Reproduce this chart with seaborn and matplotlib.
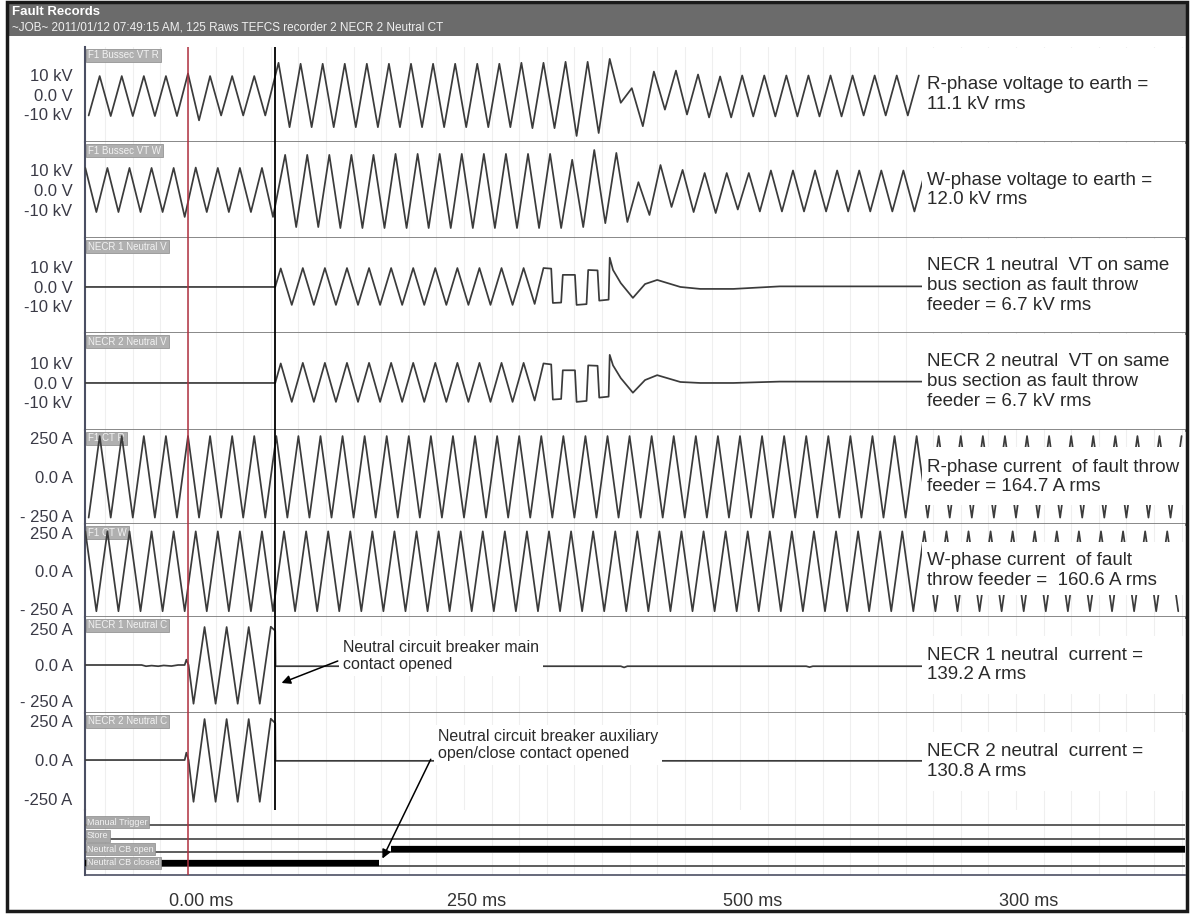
import numpy as np
import matplotlib
matplotlib.use("Agg")
import matplotlib.pyplot as plt
import matplotlib.transforms as mtransforms
from matplotlib.patches import Rectangle
import seaborn as sns

# ---------------- record data (time in ms, kV, A) ----------------
# analog channels: extrema read every half cycle (10 ms) from the record

# F1 Bussec VT R  (kV)
r_volt_pre_t0 = -90
r_volt_pre = [-10.5, 9.7, -10.8, 9.7, -10.8, 9.7, -10.8, 9.7, -10.8, 11.0,
              -13.0, 9.7, -10.5, 9.7, -10.5, 9.7, -10.5]
r_volt_post_t0 = 82
r_volt_post = [16.5, -16.5, 16.0, -16.5, 16.0, -16.5, 16.0, -16.5, 16.0, -16.5,
               16.0, -16.5, 16.0, -16.5, 16.0, -16.5, 16.0, -16.5, 16.0, -16.5,
               16.0, -16.5, 16.5, -17.0, 16.5, -17.0, 17.0, -21.0, 17.0, -19.5,
               18.5, -4.0, 3.5, -16.0, 12.0, -7.5, 12.5, -10.0, 10.5, -11.5,
               9.5, -11.5, 10.0, -11.0, 10.0, -11.0, 10.0, -11.0, 10.0, -11.0,
               10.0, -11.0, 10.0, -10.5, 10.0, -10.5, 10.0, -10.5, 10.0]

# F1 Bussec VT W  (kV)
w_volt_pre_t0 = -93
w_volt_pre = [11.3, -11.3, 11.3, -11.3, 11.3, -11.3, 11.3, -11.3, 11.3, -13.8,
              11.5, -11.3, 11.3, -11.3, 11.3, -11.3, 11.3, -13.8]
w_volt_post_t0 = 88
w_volt_post = [18.0, -19.0, 18.0, -19.0, 18.0, -19.5, 18.0, -19.5, 18.0, -19.5,
               18.5, -19.5, 18.5, -19.5, 18.5, -19.5, 18.5, -19.5, 18.5, -19.5,
               18.5, -19.5, 18.5, -19.5, 18.5, -19.5, 15.5, -19.0, 20.5, -17.0,
               19.0, -16.4, 4.0, -12.8, 12.8, -8.7, 10.3, -11.3, 8.7, -11.8,
               8.7, -10.0, 8.7, -11.0, 10.0, -11.0, 10.0, -11.0, 10.0, -11.0,
               10.0, -11.0, 10.0, -11.0, 10.0, -11.0, 10.0, -11.0, 10.0]

# NECR 1 / NECR 2 neutral VT  (kV)
nv_pre_t = [-93.3, 79]
nv_pre_v = [0.0, 0.0]
nv_reg_t0 = 84
nv1_reg = [9.5, -9.2, 9.7, -9.2, 9.7, -9.2, 9.7, -9.2, 9.7, -9.2, 9.7, -9.2,
           9.7, -9.2, 9.7, -9.2, 9.7, -9.2, 9.7, -9.2, 9.7, -9.2, 9.7, -8.7]
nv2_reg = [10.0, -9.7, 10.3, -9.7, 10.3, -9.7, 10.3, -9.7, 10.3, -9.7, 10.3, -9.7,
           10.3, -9.7, 10.3, -9.7, 10.3, -9.7, 10.3, -9.7, 10.3, -9.7, 10.3, -9.0]
nv_tail_t = [322, 329, 330.5, 338, 339.5, 350.5, 352, 361, 362.5, 371, 372.5, 381,
             382, 385, 392, 403, 414, 425, 446, 464, 494, 536, 670]
nv1_tail = [9.7, 9.4, -8.2, -8.0, 6.2, 6.2, -9.2, -8.8, 8.7, 8.5, -7.0, -6.5,
            15.0, 8.7, 2.0, -5.6, 1.5, 3.6, 0.0, -1.0, -1.0, 0.3, 0.3]
nv2_tail = [10.0, 9.5, -8.5, -8.2, 6.5, 6.5, -9.7, -9.2, 9.0, 8.8, -7.5, -7.0,
            14.4, 9.0, 2.5, -5.0, 1.5, 4.0, 0.5, 0.0, 0.0, 0.7, 0.7]

# F1 CT R  (A)
r_cur_t0 = -90
r_cur = [-248, 250, -248, 250, -248, 250, -248, 250, -248, 250,
         -248, 250, -248, 250, -248, 250, -248, 250, -248, 250,
         -248, 250, -248, 250, -248, 250, -248, 250, -248, 250,
         -248, 250, -248, 250, -248, 250, -248, 250, -248, 250,
         -248, 250, -248, 250, -248, 250, -248, 250, -248, 250,
         -248, 250, -248, 250, -248, 250, -248, 250, -248, 250,
         -248, 250, -248, 250, -248, 250, -248, 250, -248, 250,
         -248, 250, -248, 250, -248, 250, -248, 250, -248, 250,
         -248, 250, -248, 250, -248, 250, -248, 250, -248, 250,
         -248, 250, -248, 250, -248, 250, -248, 250, -248, 250]

# F1 CT W  (A)
w_cur_t0 = -93
w_cur = [248, -252, 248, -252, 248, -252, 248, -252, 248, -252,
         248, -252, 248, -252, 248, -252, 248, -252, 248, -252,
         248, -252, 248, -252, 248, -252, 248, -252, 248, -252,
         248, -252, 248, -252, 248, -252, 248, -252, 248, -252,
         248, -252, 248, -252, 248, -252, 248, -252, 248, -252,
         248, -252, 248, -252, 248, -252, 248, -252, 248, -252,
         248, -252, 248, -252, 248, -252, 248, -252, 248, -252,
         248, -252, 248, -252, 248, -252, 248, -252, 248, -252,
         248, -252, 248, -252, 248, -252, 248, -252, 248, -252,
         248, -252, 248, -252, 248, -252, 248, -252, 248, -252]

# NECR 1 / NECR 2 neutral CT  (A)
nc1_pre_t = [-93.3, -42, -38, -33, -27, -22, -15, -9, -3, -1.5, 0.5]
nc1_pre_v = [0, 0, -8, -4, -8, -3, -7, 0, 0, 35, 0]
nc2_pre_t = [-93.3, -3, -1.5, 0.5]
nc2_pre_v = [0, 0, 45, 0]
nc_wave_t0 = 5
nc1_wave = [-255, 250, -255, 250, -255, 250, -255, 252]
nc2_wave = [-255, 250, -255, 250, -255, 250, -255, 252]
nc1_post_t = [79, 79.3, 392, 395, 398, 560, 563, 566, 903.1]
nc1_post_v = [225, -8, -8, -16, -8, -8, -14, -8, -8]
nc2_post_t = [79, 79.3, 903.1]
nc2_post_v = [225, -5, -5]

# digital channels
dig_names = ["Manual Trigger", "Store", "Neutral CB open", "Neutral CB closed"]
dig_on_from = [None, None, 184, -93.3]
dig_on_to = [None, None, 903.1, 173]

trigger_t = 0
cb_open_t = 79

x_ticks = [0, 250, 500, 750]
x_ticklabels = ["0.00 ms", "250 ms", "500 ms", "300 ms"]

chan_names = ["F1 Bussec VT R", "F1 Bussec VT W", "NECR 1 Neutral V", "NECR 2 Neutral V",
              "F1 CT R", "F1 CT W", "NECR 1 Neutral C", "NECR 2 Neutral C"]
notes = ["R-phase voltage to earth =\n11.1 kV rms",
         "W-phase voltage to earth =\n12.0 kV rms",
         "NECR 1 neutral  VT on same\nbus section as fault throw\nfeeder = 6.7 kV rms",
         "NECR 2 neutral  VT on same\nbus section as fault throw\nfeeder = 6.7 kV rms",
         "R-phase current  of fault throw\nfeeder = 164.7 A rms",
         "W-phase current  of fault\nthrow feeder =  160.6 A rms",
         "NECR 1 neutral  current =\n139.2 A rms",
         "NECR 2 neutral  current =\n130.8 A rms"]
volt_ticklabels = ["10 kV", "0.0 V", "-10 kV"]
cur_ticklabels = ["250 A", "0.0 A", "- 250 A"]
cur_ticklabels_last = ["250 A", "0.0 A", "-250 A"]


def seg(t0, vals):
    return t0 + 10 * np.arange(len(vals)), np.asarray(vals, float)


def join(*parts):
    t = np.concatenate([np.asarray(p[0], float) for p in parts])
    v = np.concatenate([np.asarray(p[1], float) for p in parts])
    return t, v


channels = [
    join(seg(r_volt_pre_t0, r_volt_pre), seg(r_volt_post_t0, r_volt_post)),
    join(seg(w_volt_pre_t0, w_volt_pre), seg(w_volt_post_t0, w_volt_post)),
    join((nv_pre_t, nv_pre_v), seg(nv_reg_t0, nv1_reg), (nv_tail_t, nv1_tail)),
    join((nv_pre_t, nv_pre_v), seg(nv_reg_t0, nv2_reg), (nv_tail_t, nv2_tail)),
    seg(r_cur_t0, r_cur),
    seg(w_cur_t0, w_cur),
    join((nc1_pre_t, nc1_pre_v), seg(nc_wave_t0, nc1_wave), (nc1_post_t, nc1_post_v)),
    join((nc2_pre_t, nc2_pre_v), seg(nc_wave_t0, nc2_wave), (nc2_post_t, nc2_post_v)),
]

# ---------------- layout (pixels of the 1192x915 canvas) ----------------
W, H = 1192, 915
X0, X1 = -93.3, 903.1
panel_px = [(47, 142), (142, 238), (238, 333), (333, 430),
            (430, 524), (524, 617), (617, 713), (713, 810)]
panel_ylim = [(-24.1, 24.6), (-24.6, 24.6), (-23.6, 25.1), (-24.1, 25.6),
              (-287, 287), (-288, 294), (-316, 316), (-305, 287)]
note_box = [(0.01, 0.99), (0.01, 0.99), (0.01, 0.99), (0.01, 0.99),
            (0.20, 0.82), (0.24, 0.81), (0.2, 0.8), (0.2, 0.8)]

sns.set_theme(style="white")
plt.rcParams["font.family"] = ["Liberation Sans", "DejaVu Sans"]

fig = plt.figure(figsize=(W / 100, H / 100), dpi=100)
fig.patch.set_facecolor("white")


def add_px_axes(top, bottom, left=85, right=1185):
    return fig.add_axes([left / W, 1 - bottom / H, (right - left) / W, (bottom - top) / H])


wave_col = "#3b3b3b"
axis_col = "#4b4f63"
label_col = "#3a3a46"
minor_grid = np.arange(-75, 903, 25)

axes = []
for i, ((top, bot), (t, v)) in enumerate(zip(panel_px, channels)):
    ax = add_px_axes(top, bot)
    axes.append(ax)
    sns.lineplot(x=t, y=v, ax=ax, color=wave_col, linewidth=1.25,
                 sort=False, estimator=None, zorder=3)
    ax.set_xlim(X0, X1)
    ax.set_ylim(*panel_ylim[i])
    ax.set_xlabel("")
    ax.set_ylabel("")
    ax.set_xticks([])
    ax.set_xticks(minor_grid, minor=True)
    ax.grid(which="minor", axis="x", color="#efefef", linewidth=0.8)
    ax.tick_params(axis="x", which="both", length=0, labelbottom=False)
    if i < 4:
        ax.set_yticks([10, 0, -10])
        ax.set_yticklabels(volt_ticklabels)
    else:
        ax.set_yticks([250, 0, -250])
        ax.set_yticklabels(cur_ticklabels_last if i == 7 else cur_ticklabels)
    ax.set_yticks([0], minor=True)
    ax.tick_params(axis="y", which="major", length=0, pad=9, labelsize=12, labelcolor=label_col)
    ax.tick_params(axis="y", which="minor", length=4, width=1, color="#555555", direction="out")
    if i >= 4:
        # keep the extreme current labels inside their own strip
        lbls = ax.get_yticklabels()
        down = mtransforms.ScaledTranslation(0, -1.5 / 100, fig.dpi_scale_trans)
        up = mtransforms.ScaledTranslation(0, 1.5 / 100, fig.dpi_scale_trans)
        lbls[0].set_transform(lbls[0].get_transform() + down)
        lbls[2].set_transform(lbls[2].get_transform() + up)
    for s in ["top", "right"]:
        ax.spines[s].set_visible(False)
    ax.spines["left"].set_color(axis_col)
    ax.spines["left"].set_linewidth(1.5)
    if i < 7:
        ax.spines["bottom"].set_color("#7d7d7d")
        ax.spines["bottom"].set_linewidth(2)
    else:
        ax.spines["bottom"].set_visible(False)

    ax.axvline(trigger_t, color="#b0303f", linewidth=1.1, zorder=4)
    ax.axvline(cb_open_t, color="black", linewidth=1.3, zorder=4)

    ax.text(0.003, 1 - 3.5 / (bot - top), chan_names[i], transform=ax.transAxes,
            ha="left", va="top", fontsize=7, color="#f2f2f2", zorder=2,
            bbox=dict(boxstyle="square,pad=0.2", fc="#b0b0b0", ec="#959595", lw=0.6))

    blend = mtransforms.blended_transform_factory(ax.transData, ax.transAxes)
    y0, y1 = note_box[i]
    ax.add_patch(Rectangle((665, y0), X1 - 665, y1 - y0, transform=blend,
                           fc="white", ec="none", zorder=5))
    ax.text(669, 0.5, notes[i], transform=blend, ha="left", va="center",
            fontsize=13.5, color="#2a2a2a", linespacing=1.2, zorder=6)

# mid-plot annotations
ax7, ax8 = axes[6], axes[7]
ax7.text(140, 59, "Neutral circuit breaker main\ncontact opened", fontsize=11.5,
         color="#2a2a2a", ha="left", va="center", linespacing=1.1, zorder=6,
         bbox=dict(boxstyle="square,pad=0.25", fc="white", ec="none"))
ax7.annotate("", xy=(82.4, -125), xytext=(138, 33),
             arrowprops=dict(arrowstyle="-|>", color="black", lw=1.1, mutation_scale=13),
             zorder=7)
ax8.text(226.5, 92, "Neutral circuit breaker auxiliary\nopen/close contact opened", fontsize=11.5,
         color="#2a2a2a", ha="left", va="center", linespacing=1.1, zorder=6,
         bbox=dict(boxstyle="square,pad=0.25", fc="white", ec="none"))

# digital channels
axd = add_px_axes(810, 875)
axd.set_xlim(X0, X1)
axd.set_ylim(3.7, -1.11)
for k, name in enumerate(dig_names):
    axd.axhline(k, color="#505050", linewidth=1.3, zorder=3)
    if dig_on_from[k] is not None:
        axd.hlines(k - 0.22, dig_on_from[k], dig_on_to[k], color="black", linewidth=4.5, zorder=4)
    axd.text(-91.5, k - 0.2, name, fontsize=6.5, color="#f2f2f2", ha="left", va="center", zorder=5,
             bbox=dict(boxstyle="square,pad=0.15", fc="#a9a9a9", ec="#8a8a8a", lw=0.5))
axd.axvline(trigger_t, color="#b0303f", linewidth=1.1, zorder=6)
axd.set_yticks([])
axd.set_xticks(x_ticks)
axd.set_xticklabels(x_ticklabels)
axd.set_xticks(minor_grid, minor=True)
axd.grid(which="minor", axis="x", color="#efefef", linewidth=0.8)
axd.tick_params(axis="x", which="major", direction="inout", length=8, width=1, color="#555555",
                pad=9, labelsize=13, labelcolor="#333333")
axd.tick_params(axis="x", which="minor", direction="inout", length=4, width=0.8, color="#777777")
for s in ["top", "right"]:
    axd.spines[s].set_visible(False)
axd.spines["left"].set_color(axis_col)
axd.spines["left"].set_linewidth(1.5)
axd.spines["bottom"].set_color(axis_col)
axd.spines["bottom"].set_linewidth(1.2)
shift = mtransforms.ScaledTranslation(13 / 100, 0, fig.dpi_scale_trans)
for lbl in axd.get_xticklabels():
    lbl.set_transform(lbl.get_transform() + shift)

axd.annotate("", xy=(175, 2.67), xycoords="data", xytext=(221, 20), textcoords=ax8.transData,
             arrowprops=dict(arrowstyle="-|>", color="black", lw=1.1, mutation_scale=13),
             annotation_clip=False, zorder=8)

# header bar and frame
fig.add_artist(Rectangle((7 / W, 1 - 36 / H), 1180 / W, 34 / H, transform=fig.transFigure,
                         fc="#6b6b6b", ec="none"))
fig.text(12 / W, 1 - 12 / H, "Fault Records", color="white", fontsize=9.5,
         fontweight="bold", va="center", ha="left")
fig.text(12 / W, 1 - 27 / H, "~JOB~ 2011/01/12 07:49:15 AM, 125 Raws TEFCS recorder 2 NECR 2 Neutral CT",
         color="#f0f0f0", fontsize=8.5, va="center", ha="left")
fig.add_artist(Rectangle((7 / W, 1 - 911 / H), 1180 / W, 909 / H, transform=fig.transFigure,
                         fill=False, ec="#1a1a1a", lw=2.5))

fig.savefig("out.png", dpi=100)
